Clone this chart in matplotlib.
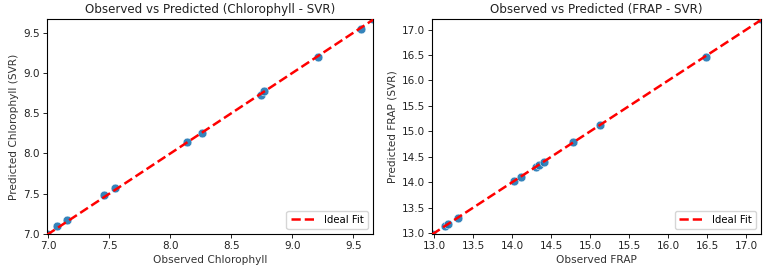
import matplotlib
matplotlib.use("Agg")
import matplotlib.pyplot as plt
import numpy as np

# Chlorophyll (observed, predicted by SVR)
chl_obs = [6.99, 7.07, 7.15, 7.46, 7.55, 8.14, 8.26, 8.74, 8.77, 9.21, 9.56, 9.66]
chl_pred = [7.00, 7.10, 7.17, 7.49, 7.57, 8.14, 8.25, 8.73, 8.78, 9.20, 9.55, 9.67]

# FRAP (observed, predicted by SVR)
frap_obs = [12.97, 13.14, 13.17, 13.30, 14.02, 14.11, 14.30, 14.34, 14.41, 14.78, 15.12, 16.48, 17.19]
frap_pred = [12.98, 13.14, 13.17, 13.30, 14.02, 14.11, 14.30, 14.34, 14.40, 14.79, 15.13, 16.47, 17.21]

panels = [
    (chl_obs, chl_pred, "Observed vs Predicted (Chlorophyll - SVR)",
     "Observed Chlorophyll", "Predicted Chlorophyll (SVR)"),
    (frap_obs, frap_pred, "Observed vs Predicted (FRAP - SVR)",
     "Observed FRAP", "Predicted FRAP (SVR)"),
]

fig = plt.figure(figsize=(7.67, 2.72), dpi=100)
ax1 = fig.add_axes([0.0613, 0.1397, 0.425, 0.7905])
ax2 = fig.add_axes([0.5632, 0.1397, 0.429, 0.7905])

for ax, (obs, pred, title, xl, yl) in zip([ax1, ax2], panels):
    obs = np.array(obs)
    pred = np.array(pred)
    ax.scatter(obs, pred, s=40, color="#1f77b4", edgecolor="white", linewidth=0.4, alpha=0.9, zorder=2)
    lo = min(obs.min(), pred.min())
    hi = max(obs.max(), pred.max())
    ax.plot([lo, hi], [lo, hi], "r--", lw=1.8, label="Ideal Fit", zorder=3)
    ax.set_xlim(obs.min(), obs.max())
    ax.set_ylim(pred.min(), pred.max())
    ax.set_title(title, fontsize=8.6, color="#222222", pad=4)
    ax.set_xlabel(xl, fontsize=7.6, color="#333333", labelpad=3)
    ax.set_ylabel(yl, fontsize=7.6, color="#333333", labelpad=3)
    ax.tick_params(labelsize=7.5, length=3, width=0.7, pad=2, colors="#222222")
    ax.legend(loc="lower right", fontsize=7.3, frameon=True, handlelength=2.5)
    for sp in ax.spines.values():
        sp.set_linewidth(0.8)

ax1.set_xticks(np.arange(7.0, 9.51, 0.5))
ax1.set_yticks(np.arange(7.0, 9.51, 0.5))
ax2.set_xticks(np.arange(13.0, 17.01, 0.5))
ax2.set_yticks(np.arange(13.0, 17.01, 0.5))

fig.savefig("out.png", dpi=100)
